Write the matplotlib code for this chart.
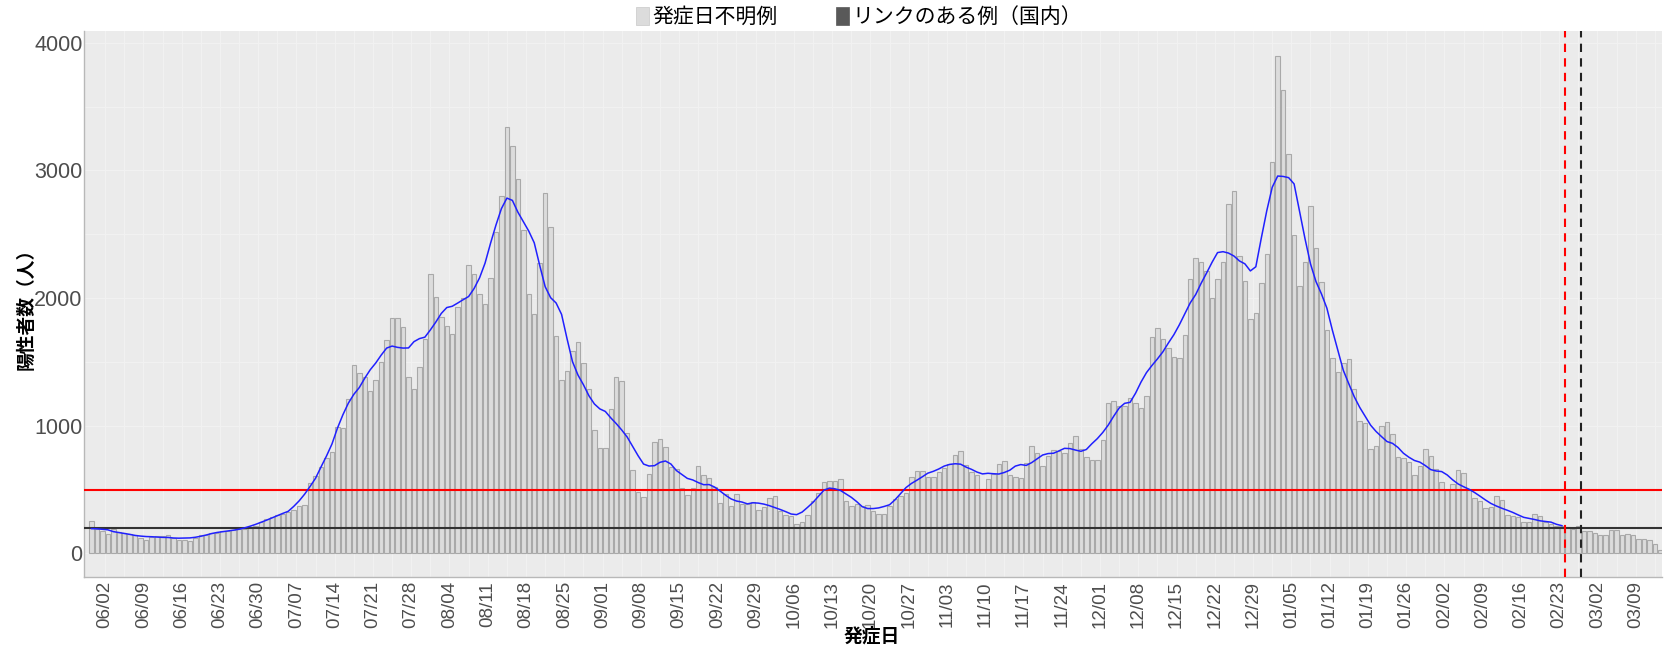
import matplotlib
matplotlib.use('Agg')
import matplotlib.pyplot as plt
import matplotlib.dates as mdates
from matplotlib.patches import Patch
import pandas as pd

# daily positives by onset date, 2020-05-30 .. 2021-03-13
may = [250, 190]
jun = [175, 150, 185, 165, 160, 150, 140, 120, 105, 125, 130, 135, 140, 120, 105,
       100, 95, 120, 145, 145, 155, 160, 170, 175, 180, 185, 190, 195, 210, 245]
jul = [265, 280, 300, 305, 320, 340, 365, 380, 549, 606, 672, 745, 790, 985, 980, 1208,
       1474, 1409, 1383, 1273, 1357, 1495, 1670, 1843, 1843, 1770, 1383, 1286, 1456, 1678, 2188]
aug = [2010, 1850, 1780, 1718, 1930, 2000, 2259, 2186, 2034, 1955, 2157, 2517, 2803, 3345, 3195,
       2937, 2531, 2032, 1875, 2278, 2825, 2553, 1700, 1358, 1428, 1585, 1653, 1490, 1290, 968, 825]
sep = [825, 1133, 1381, 1352, 938, 651, 476, 437, 620, 868, 894, 829, 672, 659, 510,
       455, 510, 680, 612, 586, 515, 392, 463, 371, 463, 384, 384, 397, 337, 363]
oct_ = [431, 444, 330, 300, 292, 230, 245, 300, 410, 470, 560, 567, 567, 580, 410, 371,
        384, 371, 376, 327, 306, 306, 371, 420, 450, 470, 600, 640, 640, 599, 599]
nov = [638, 668, 700, 770, 800, 690, 635, 615, 505, 578, 620, 700, 725, 610, 599,
       591, 703, 843, 785, 679, 764, 809, 798, 782, 862, 915, 817, 750, 729, 729]
dec = [883, 1175, 1196, 1156, 1156, 1215, 1180, 1140, 1230, 1697, 1768, 1676, 1606, 1539, 1530, 1713,
       2150, 2310, 2279, 2211, 1998, 2150, 2279, 2738, 2839, 2328, 2135, 1835, 1881, 2120, 2349]
jan = [3068, 3900, 3634, 3129, 2496, 2098, 2282, 2723, 2396, 2126, 1753, 1527, 1422, 1493, 1519, 1283,
       1035, 1017, 813, 839, 1000, 1030, 937, 754, 746, 715, 615, 681, 812, 759, 662]
feb = [558, 492, 539, 649, 628, 492, 435, 406, 353, 361, 448, 419, 301, 293,
       283, 243, 243, 309, 288, 243, 230, 212, 209, 204, 191, 212, 173, 173]
mar = [157, 144, 144, 183, 178, 139, 147, 139, 113, 110, 105, 68, 21]

counts = may + jun + jul + aug + sep + oct_ + nov + dec + jan + feb + mar
start = '2020-05-30'
tick_start, tick_end = '2020-06-02', '2021-03-09'
avg_end = '2021-02-23'
red_level, black_level = 494, 200
red_cut, black_cut = '2021-02-24', '2021-02-27'
legend_labels = ['発症日不明例', 'リンクのある例（国内）']

dates = pd.date_range(start, periods=len(counts), freq='D')
s = pd.Series(counts, index=dates)
avg = s.rolling(7, center=True, min_periods=1).mean()[:avg_end]

plt.rcParams['font.family'] = ['Liberation Sans', 'Noto Sans CJK JP']

W, H = 1667, 649
fig = plt.figure(figsize=(W / 100, H / 100), dpi=100)
ax = fig.add_axes([84 / W, 1 - 577 / H, (1662 - 84) / W, (577 - 31) / H])
ax.set_facecolor('#ebebeb')

x = mdates.date2num(dates) + 0.5
ax.bar(x, counts, width=0.82, color='#dcdcdc', edgecolor='#a9a9a9', linewidth=0.8, zorder=2)
ax.plot(mdates.date2num(avg.index) + 0.5, avg.values, color='#2020ff', lw=1.1, zorder=4)

ax.axhline(red_level, color='red', lw=1.5, zorder=3)
ax.axhline(black_level, color='#333333', lw=1.5, zorder=3)
ax.axvline(mdates.date2num(pd.Timestamp(red_cut)), color='red', lw=1.5, ls=(0, (4, 3)), zorder=5)
ax.axvline(mdates.date2num(pd.Timestamp(black_cut)), color='#222222', lw=1.5, ls=(0, (4, 3)), zorder=5)

t0 = mdates.date2num(pd.Timestamp(tick_start))
ticks = pd.date_range(tick_start, tick_end, freq='7D')
ax.set_xticks(mdates.date2num(ticks))
ax.set_xticklabels(ticks.strftime('%m/%d'), rotation=90)
ax.set_xticks(mdates.date2num(ticks) + 3.5, minor=True)
ax.set_xlim(t0 - 3.86, t0 + 284.8)

ax.set_yticks([0, 1000, 2000, 3000, 4000])
ax.set_yticks([500, 1500, 2500, 3500], minor=True)
ax.set_ylim(-188, 4094)

ax.grid(which='both', color='#f1f1f1', lw=0.8, zorder=0)
ax.set_axisbelow(True)
ax.tick_params(axis='x', which='major', length=0, pad=3, labelsize=13.5, labelcolor='#4d4d4d')
ax.tick_params(axis='y', which='major', length=0, pad=1, labelsize=15.5, labelcolor='#4d4d4d')
ax.tick_params(which='minor', length=0)
for side in ['top', 'right']:
    ax.spines[side].set_visible(False)
for side in ['left', 'bottom']:
    ax.spines[side].set_color('#b8b8b8')
    ax.spines[side].set_linewidth(1.0)

fig.text(26 / W, 1 - 304 / H, '陽性者数（人）', rotation=90, ha='center', va='center',
         fontsize=13.5, fontweight='bold', family=['Noto Sans CJK JP'])
fig.text(872 / W, 1 - 636 / H, '発症日', ha='center', va='center',
         fontsize=13.5, fontweight='bold', family=['Noto Sans CJK JP'])

handles = [Patch(facecolor='#dcdcdc', edgecolor='#c8c8c8', lw=0.5),
           Patch(facecolor='#595959', edgecolor='#595959', lw=0.5)]
fig.legend(handles, legend_labels, loc='center left', bbox_to_anchor=(636 / W, 1 - 17 / H), ncol=2,
           frameon=False, handlelength=0.6, handleheight=1.0, handletextpad=0.2,
           columnspacing=2.8, borderaxespad=0, borderpad=0,
           prop={'family': 'Noto Sans CJK JP', 'size': 15})

fig.savefig('out.png', dpi=100, facecolor='white')
